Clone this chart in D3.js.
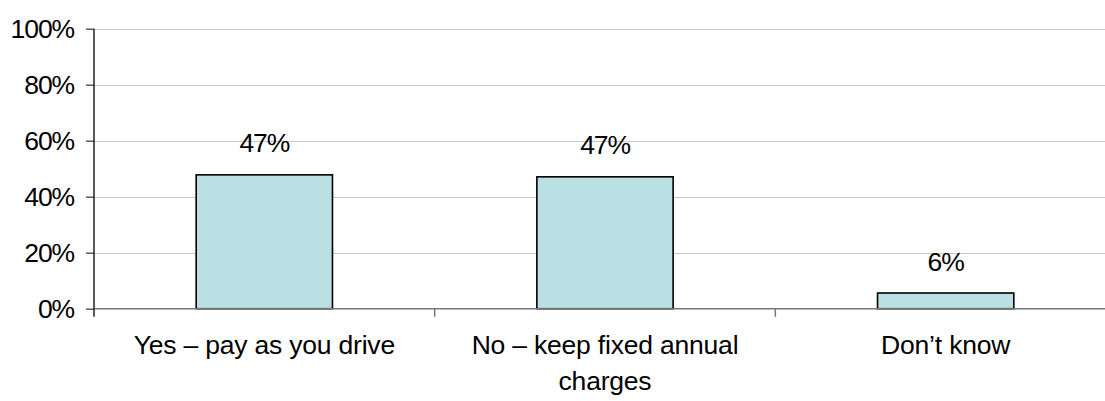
<!DOCTYPE html>
<html>
<head>
<meta charset="utf-8">
<script src="https://cdn.jsdelivr.net/npm/d3@7"></script>
<style>
  html, body { margin: 0; padding: 0; background: #fff; }
  svg { display: block; }
  text { font-family: "Liberation Sans", Arial, sans-serif; fill: #000; }
</style>
</head>
<body>
<svg id="chart" width="1105" height="401"></svg>
<script>
const categories = ["Yes \u2013 pay as you drive", "No \u2013 keep fixed annual charges", "Don\u2019t know"];
const values = [0.478, 0.471, 0.056];
const valueLabels = ["47%", "47%", "6%"];
const yTicks = [0, 0.2, 0.4, 0.6, 0.8, 1.0];

const svg = d3.select("#chart");
const mLeft = 94, mRight = 1116, mTop = 28.7, mBottom = 308.7;

const x = d3.scaleBand().domain(categories).range([mLeft, mRight]).paddingInner(0.6).paddingOuter(0.3);
const y = d3.scaleLinear().domain([0, 1]).range([mBottom, mTop]);

// gridlines
svg.append("g").selectAll("line").data(yTicks.filter(d => d > 0)).join("line")
  .attr("x1", mLeft).attr("x2", mRight)
  .attr("y1", d => Math.round(y(d)) + 0.5).attr("y2", d => Math.round(y(d)) + 0.5)
  .attr("stroke", "#c8c8c8").attr("stroke-width", 1);

// y axis
const yAxis = d3.axisLeft(y).tickValues(yTicks).tickFormat(d3.format(".0%")).tickSize(8).tickPadding(12);
const gy = svg.append("g").attr("transform", `translate(${mLeft},0)`).call(yAxis);
gy.select(".domain").remove();
gy.selectAll(".tick line").attr("stroke", "#333").attr("stroke-width", 1.2);
gy.selectAll(".tick text").attr("font-size", 26.5).attr("letter-spacing", "-1.1px")
  .attr("font-family", "Liberation Sans, Arial, sans-serif").attr("fill", "#000").attr("dy", "0.33em");

// bars
svg.append("g").selectAll("rect").data(categories).join("rect")
  .attr("x", d => x(d)).attr("width", x.bandwidth())
  .attr("y", (d, i) => y(values[i])).attr("height", (d, i) => y(0) - y(values[i]))
  .attr("fill", "#bae0e3").attr("stroke", "#000").attr("stroke-width", 1.6);

// value labels
svg.append("g").selectAll("text").data(categories).join("text")
  .attr("x", d => x(d) + x.bandwidth() / 2)
  .attr("y", (d, i) => y(values[i]) - 22.5)
  .attr("text-anchor", "middle").attr("font-size", 26.5).attr("letter-spacing", "-1.1px")
  .text((d, i) => valueLabels[i]);

// x axis baseline
svg.append("line").attr("x1", mLeft).attr("x2", mRight)
  .attr("y1", mBottom).attr("y2", mBottom).attr("stroke", "#777").attr("stroke-width", 1.5);
// y axis line
svg.append("line").attr("x1", mLeft).attr("x2", mLeft)
  .attr("y1", mTop).attr("y2", mBottom + 8).attr("stroke", "#222").attr("stroke-width", 1.5);

// category separator ticks
const step = x.step();
const sepX = categories.slice(1).map(c => x(c) - step * x.paddingInner() / 2);
svg.append("g").selectAll("line").data(sepX).join("line")
  .attr("x1", d => d).attr("x2", d => d).attr("y1", mBottom).attr("y2", mBottom + 8)
  .attr("stroke", "#777").attr("stroke-width", 1.5);

// category labels with wrapping
const maxW = 300;
const lbl = svg.append("g").selectAll("text").data(categories).join("text")
  .attr("text-anchor", "middle").attr("font-size", 26.5).attr("letter-spacing", "-0.2px")
  .attr("x", d => x(d) + x.bandwidth() / 2).attr("y", 354);
lbl.each(function(d) {
  const t = d3.select(this);
  const words = d.split(" ");
  let line = [];
  let lineNo = 0;
  let tspan = t.append("tspan").attr("x", x(d) + x.bandwidth() / 2).attr("y", 354);
  for (const w of words) {
    line.push(w);
    tspan.text(line.join(" "));
    if (tspan.node().getComputedTextLength() > maxW && line.length > 1) {
      line.pop();
      tspan.text(line.join(" "));
      line = [w];
      lineNo++;
      tspan = t.append("tspan").attr("x", x(d) + x.bandwidth() / 2).attr("y", 354 + lineNo * 36).text(w);
    }
  }
});
</script>
</body>
</html>
